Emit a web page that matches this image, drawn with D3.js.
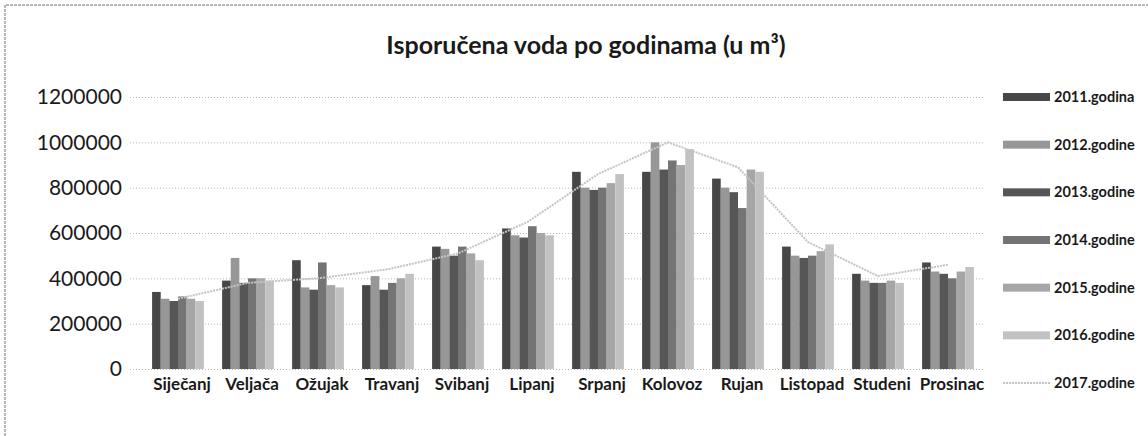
<!DOCTYPE html>
<html>
<head>
<meta charset="utf-8">
<script src="https://cdn.jsdelivr.net/npm/d3@7"></script>
<style>
  body { margin: 0; background: #fff; }
  svg text { font-family: Lato, "Open Sans", sans-serif; fill: #1a1a1a; }
</style>
</head>
<body>
<div id="chart"></div>
<script>
// months on the x axis
const months = ["Siječanj", "Veljača", "Ožujak", "Travanj", "Svibanj", "Lipanj",
                "Srpanj", "Kolovoz", "Rujan", "Listopad", "Studeni", "Prosinac"];

// bar series (m3)
const y2011 = [340000, 390000, 480000, 370000, 540000, 620000, 870000, 870000, 840000, 540000, 420000, 470000];
const y2012 = [310000, 490000, 360000, 410000, 530000, 590000, 800000, 1000000, 800000, 500000, 390000, 430000];
const y2013 = [300000, 380000, 350000, 350000, 500000, 580000, 790000, 880000, 780000, 490000, 380000, 420000];
const y2014 = [320000, 400000, 470000, 380000, 540000, 630000, 800000, 920000, 710000, 500000, 380000, 400000];
const y2015 = [310000, 400000, 370000, 400000, 510000, 600000, 820000, 900000, 880000, 520000, 390000, 430000];
const y2016 = [300000, 390000, 360000, 420000, 480000, 590000, 860000, 970000, 870000, 550000, 380000, 450000];
// 2017 drawn as a line
const y2017 = [310000, 380000, 400000, 440000, 510000, 650000, 860000, 1000000, 890000, 560000, 410000, 460000];

const barNames = ["2011.godina", "2012.godine", "2013.godine", "2014.godine", "2015.godine", "2016.godine"];
const lineName = "2017.godine";
const yTicks = [0, 200000, 400000, 600000, 800000, 1000000, 1200000];

const barSeries = [y2011, y2012, y2013, y2014, y2015, y2016];
const colors = ["#474747", "#979797", "#565656", "#747474", "#a6a6a6", "#c2c2c2"];
const lineColor = "#c4c4c4";

const W = 1148, H = 436;
const svg = d3.select("#chart").append("svg")
              .attr("width", W)
              .attr("height", H);

// scanned page border
svg.append("path")
   .attr("d", `M5,${H} V5 H${W}`)
   .attr("fill", "none")
   .attr("stroke", "#a0a0a0")
   .attr("stroke-width", 1.5)
   .attr("stroke-dasharray", "3,1");

const x0 = d3.scaleBand()
             .domain(months)
             .range([143, 983])
             .paddingInner(0.26)
             .paddingOuter(0.13);
const x1 = d3.scaleBand()
             .domain(d3.range(barSeries.length))
             .range([0, x0.bandwidth()]);
const y = d3.scaleLinear()
            .domain([0, 1200000])
            .range([369, 97]);

svg.append("text")
   .attr("x", 586)
   .attr("y", 54)
   .attr("text-anchor", "middle")
   .style("font-size", "25px")
   .style("font-weight", "bold")
   .text("Isporučena voda po godinama (u m³)");

// y axis: labels + dotted gridlines
const yAxis = d3.axisLeft(y)
                .tickValues(yTicks)
                .tickSize(-(985 - 130))
                .tickPadding(8)
                .tickFormat(d3.format("d"));
const gy = svg.append("g")
              .attr("transform", "translate(130,0)")
              .call(yAxis);
gy.select(".domain").remove();
gy.selectAll(".tick line")
  .attr("stroke", "#b8b8b8")
  .attr("stroke-dasharray", "1,2");
gy.selectAll(".tick text")
  .style("font-size", "21px")
  .attr("fill", "#222");

// bars
const groups = svg.selectAll("g.month")
                  .data(months)
                  .enter()
                  .append("g")
                  .attr("class", "month")
                  .attr("transform", d => `translate(${x0(d)},0)`);
groups.selectAll("rect")
      .data((m, i) => barSeries.map((s, k) => ({k: k, v: s[i]})))
      .enter()
      .append("rect")
      .attr("x", d => x1(d.k))
      .attr("width", x1.bandwidth())
      .attr("y", d => y(d.v))
      .attr("height", d => y(0) - y(d.v))
      .attr("fill", d => colors[d.k]);

// 2017 line
const line = d3.line()
               .x((d, i) => x0(months[i]) + x0.bandwidth() / 2)
               .y(d => y(d));
svg.append("path")
   .datum(y2017)
   .attr("d", line)
   .attr("fill", "none")
   .attr("stroke", lineColor)
   .attr("stroke-width", 2)
   .attr("stroke-dasharray", "2,1");

// x axis labels
const xAxis = d3.axisBottom(x0).tickSize(0).tickPadding(7);
const gx = svg.append("g")
              .attr("transform", "translate(4,371)")
              .call(xAxis);
gx.select(".domain").remove();
gx.selectAll(".tick text")
  .style("font-size", "17px")
  .style("font-weight", "bold")
  .attr("fill", "#1a1a1a");

// legend
const legendY = d3.scalePoint()
                  .domain(barNames.concat([lineName]))
                  .range([97, 383]);
const legend = svg.selectAll("g.legend")
                  .data(barNames.concat([lineName]))
                  .enter()
                  .append("g")
                  .attr("class", "legend")
                  .attr("transform", d => `translate(1003,${legendY(d)})`);
legend.filter(d => d !== lineName)
      .append("rect")
      .attr("x", 0)
      .attr("y", -4)
      .attr("width", 47)
      .attr("height", 8)
      .attr("fill", (d, i) => colors[i]);
legend.filter(d => d === lineName)
      .append("line")
      .attr("x1", 0)
      .attr("x2", 47)
      .attr("stroke", lineColor)
      .attr("stroke-width", 2)
      .attr("stroke-dasharray", "2,1");
legend.append("text")
      .attr("x", 51)
      .attr("dy", "0.35em")
      .style("font-size", "14.5px")
      .style("font-weight", "bold")
      .text(d => d);
</script>
</body>
</html>
